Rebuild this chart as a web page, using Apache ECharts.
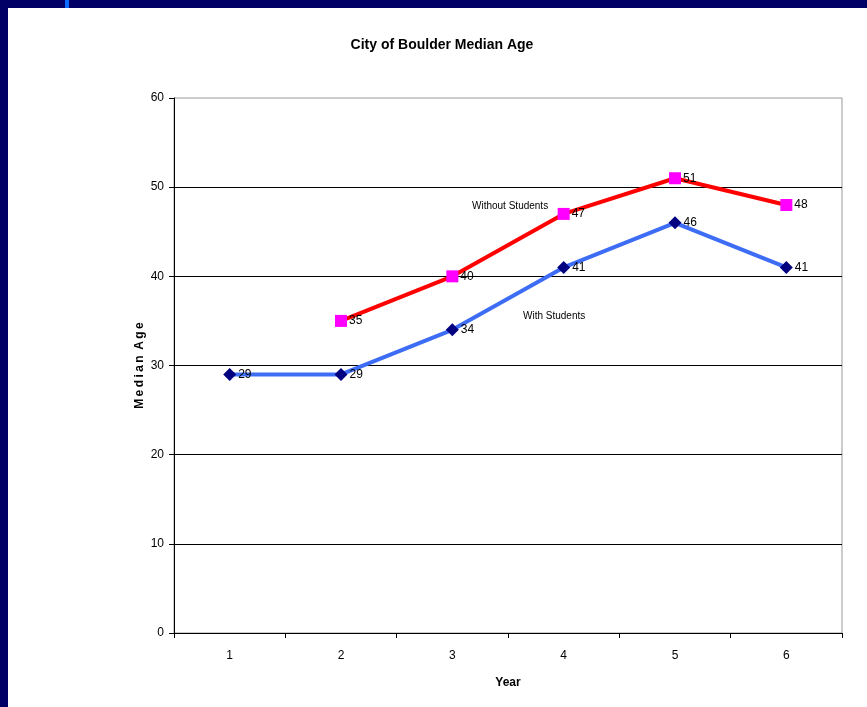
<!DOCTYPE html>
<html>
<head>
<meta charset="utf-8">
<script src="https://cdn.jsdelivr.net/npm/echarts@6/dist/echarts.min.js"></script>
<style>
  html, body { margin: 0; padding: 0; background: #fff; }
  #wrap { position: relative; width: 867px; height: 707px; overflow: hidden; }
  #chart { position: absolute; left: 0; top: 0; width: 867px; height: 707px; }
  .bar { position: absolute; background: #000066; }
</style>
</head>
<body>
<div id="wrap">
  <div id="chart"></div>
  <div class="bar" style="left:0;top:0;width:867px;height:8px;"></div>
  <div class="bar" style="left:0;top:0;width:8px;height:707px;"></div>
  <div class="bar" style="left:65px;top:0;width:4px;height:8px;background:#0a6cff;"></div>
</div>
<script>
// 年份类别
var years = ['1', '2', '3', '4', '5', '6'];
// 不含学生 / 含学生
var withoutStudents = [null, 35, 40, 47, 51, 48];
var withStudents = [29, 29, 34, 41, 46, 41];
var yTicks = [0, 10, 20, 30, 40, 50, 60];

var myChart = echarts.init(document.getElementById('chart'));

var labelStyle = {
    show: true,
    position: 'right',
    distance: 2,
    color: '#000',
    fontSize: 12,
    fontFamily: 'Liberation Sans'
};

var option = {
    animation: false,
    textStyle: { fontFamily: 'Liberation Sans' },
    title: {
        text: 'City of Boulder Median Age',
        left: 437,
        top: 33,
        textAlign: 'center',
        textStyle: { fontSize: 14, fontWeight: 'bold', color: '#000' }
    },
    grid: {
        left: 174,
        top: 98,
        right: 25,
        bottom: 74,
        show: true,
        borderColor: '#999',
        borderWidth: 1
    },
    xAxis: {
        type: 'category',
        data: years,
        boundaryGap: true,
        name: 'Year',
        nameLocation: 'middle',
        nameGap: 44,
        nameTextStyle: { fontSize: 12, fontWeight: 'bold', color: '#000' },
        axisLine: { lineStyle: { color: '#000', width: 1 } },
        axisTick: { show: true, length: 5, inside: false, lineStyle: { color: '#000' } },
        axisLabel: { color: '#000', fontSize: 12, margin: 17 },
        splitLine: { show: false }
    },
    yAxis: {
        type: 'value',
        min: yTicks[0],
        max: yTicks[yTicks.length - 1],
        interval: 10,
        name: 'M\u2009e\u2009d\u2009i\u2009a\u2009n\u2009 A\u2009g\u2009e',
        nameLocation: 'middle',
        nameGap: 28,
        nameMoveOverlap: false,
        nameRotate: 90,
        nameTextStyle: { fontSize: 12, fontWeight: 'bold', color: '#000' },
        axisLine: { show: true, lineStyle: { color: '#000', width: 1 } },
        axisTick: { show: true, length: 5, lineStyle: { color: '#000' } },
        axisLabel: { color: '#000', fontSize: 12, margin: 10 },
        splitLine: { show: true, showMaxLine: false, lineStyle: { color: '#000', width: 1 } }
    },
    graphic: [{
        type: 'text',
        left: 472,
        top: 201,
        style: { text: 'Without Students', fontSize: 10, fill: '#000', fontFamily: 'Liberation Sans' }
    }, {
        type: 'text',
        left: 523,
        top: 311,
        style: { text: 'With Students', fontSize: 10, fill: '#000', fontFamily: 'Liberation Sans' }
    }],
    series: [{
        name: 'With Students',
        type: 'line',
        data: withStudents,
        lineStyle: { color: '#3d6cf5', width: 4 },
        itemStyle: { color: '#000080' },
        symbol: 'diamond',
        symbolSize: 13,
        label: labelStyle,
        z: 3
    }, {
        name: 'Without Students',
        type: 'line',
        data: withoutStudents,
        connectNulls: false,
        lineStyle: { color: '#ff0000', width: 4 },
        itemStyle: { color: '#ff00ff' },
        symbol: 'rect',
        symbolSize: 12,
        label: labelStyle,
        z: 4
    }]
};

myChart.setOption(option);
</script>
</body>
</html>
